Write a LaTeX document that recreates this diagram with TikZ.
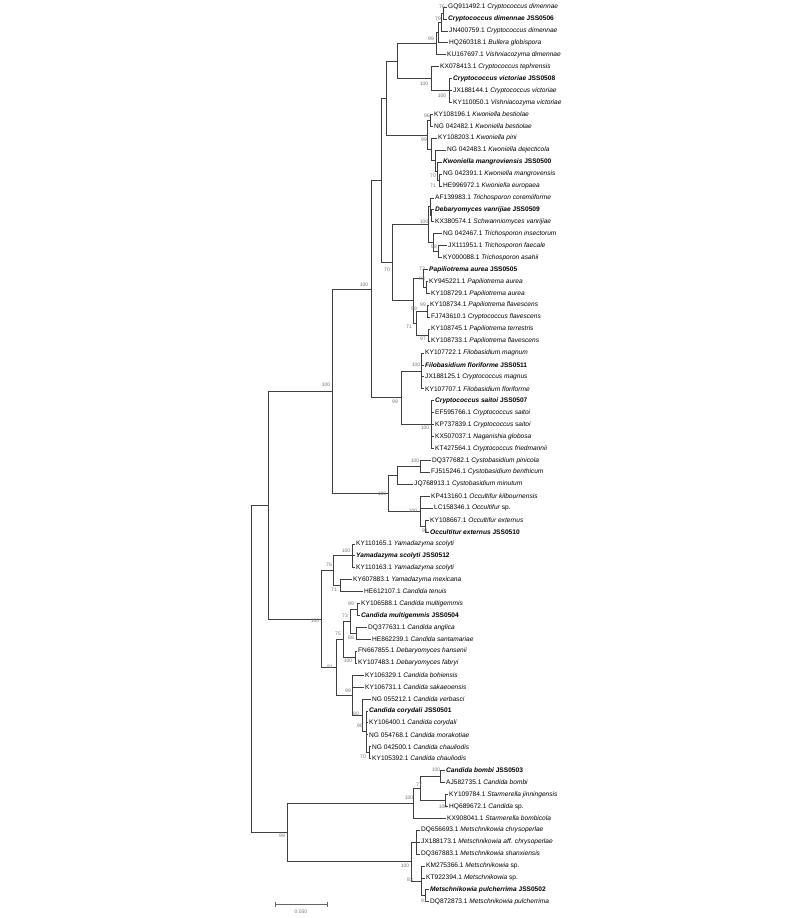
\documentclass[tikz,border=0pt]{standalone}
\usepackage{fontspec}
\setmainfont{Liberation Sans}
\begin{document}
\begin{tikzpicture}[x=1pt,y=-1pt,
  br/.style={draw=black!75,line width=0.7pt},
  leaf/.style={anchor=west,inner sep=1pt,font=\fontsize{6.6}{7}\selectfont},
  bs/.style={inner sep=0pt,text=black!55,font=\fontsize{5}{5}\selectfont}]
\useasboundingbox (0,0) rectangle (800,918);
\def\Y#1{{-4.93+11.93*#1}}
\newcommand\spx[2]{#1 \textit{#2}}
\newcommand\bspx[2]{\textbf{\textit{#1} #2}}
% leaves
\node[leaf] (l1) at (447,\Y{1}) {\spx{GQ911492.1}{Cryptococcus dimennae}};
\node[leaf] (l2) at (447,\Y{2}) {\bspx{Cryptococcus dimennae}{JSS0506}};
\node[leaf] (l3) at (448,\Y{3}) {\spx{JN400759.1}{Cryptococcus dimennae}};
\node[leaf] (l4) at (448,\Y{4}) {\spx{HQ260318.1}{Bullera globispora}};
\node[leaf] (l5) at (446,\Y{5}) {\spx{KU167697.1}{Vishniacozyma dimennae}};
\node[leaf] (l6) at (439,\Y{6}) {\spx{KX078413.1}{Cryptococcus tephrensis}};
\node[leaf] (l7) at (452,\Y{7}) {\bspx{Cryptococcus victoriae}{JSS0508}};
\node[leaf] (l8) at (452,\Y{8}) {\spx{JX188144.1}{Cryptococcus victoriae}};
\node[leaf] (l9) at (452,\Y{9}) {\spx{KY110050.1}{Vishniacozyma victoriae}};
\node[leaf] (l10) at (433,\Y{10}) {\spx{KY108196.1}{Kwoniella bestiolae}};
\node[leaf] (l11) at (433,\Y{11}) {\spx{NG 042482.1}{Kwoniella bestiolae}};
\node[leaf] (l12) at (437,\Y{12}) {\spx{KY108203.1}{Kwoniella pini}};
\node[leaf] (l13) at (446,\Y{13}) {\spx{NG 042483.1}{Kwoniella dejecticola}};
\node[leaf] (l14) at (442,\Y{14}) {\bspx{Kwoniella mangroviensis}{JSS0500}};
\node[leaf] (l15) at (442,\Y{15}) {\spx{NG 042391.1}{Kwoniella mangrovensis}};
\node[leaf] (l16) at (442,\Y{16}) {\spx{HE996972.1}{Kwoniella europaea}};
\node[leaf] (l17) at (434,\Y{17}) {\spx{AF139983.1}{Trichosporon coremiiforme}};
\node[leaf] (l18) at (434,\Y{18}) {\bspx{Debaryomyces vanrijiae}{JSS0509}};
\node[leaf] (l19) at (434,\Y{19}) {\spx{KX380574.1}{Schwanniomyces vanrijiae}};
\node[leaf] (l20) at (442,\Y{20}) {\spx{NG 042467.1}{Trichosporon insectorum}};
\node[leaf] (l21) at (447,\Y{21}) {\spx{JX111951.1}{Trichosporon faecale}};
\node[leaf] (l22) at (442,\Y{22}) {\spx{KY000088.1}{Trichosporon asahii}};
\node[leaf] (l23) at (428,\Y{23}) {\bspx{Papiliotrema aurea}{JSS0505}};
\node[leaf] (l24) at (428,\Y{24}) {\spx{KY945221.1}{Papiliotrema aurea}};
\node[leaf] (l25) at (430,\Y{25}) {\spx{KY108729.1}{Papiliotrema aurea}};
\node[leaf] (l26) at (429,\Y{26}) {\spx{KY108734.1}{Papiliotrema flavescens}};
\node[leaf] (l27) at (430,\Y{27}) {\spx{FJ743610.1}{Cryptococcus flavescens}};
\node[leaf] (l28) at (430,\Y{28}) {\spx{KY108745.1}{Papiliotrema terrestris}};
\node[leaf] (l29) at (430,\Y{29}) {\spx{KY108733.1}{Papiliotrema flavescens}};
\node[leaf] (l30) at (424,\Y{30}) {\spx{KY107722.1}{Filobasidium magnum}};
\node[leaf] (l31) at (424,\Y{31}) {\bspx{Filobasidium floriforme}{JSS0511}};
\node[leaf] (l32) at (424,\Y{32}) {\spx{JX188125.1}{Cryptococcus magnus}};
\node[leaf] (l33) at (424,\Y{33}) {\spx{KY107707.1}{Filobasidium floriforme}};
\node[leaf] (l34) at (434,\Y{34}) {\bspx{Cryptococcus saitoi}{JSS0507}};
\node[leaf] (l35) at (434,\Y{35}) {\spx{EF595766.1}{Cryptococcus saitoi}};
\node[leaf] (l36) at (434,\Y{36}) {\spx{KP737839.1}{Cryptococcus saitoi}};
\node[leaf] (l37) at (434,\Y{37}) {\spx{KX507037.1}{Naganishia globosa}};
\node[leaf] (l38) at (434,\Y{38}) {\spx{KT427564.1}{Cryptococcus friedmannii}};
\node[leaf] (l39) at (431,\Y{39}) {\spx{DQ377682.1}{Cystobasidium pinicola}};
\node[leaf] (l40) at (430,\Y{40}) {\spx{FJ515246.1}{Cystobasidium benthicum}};
\node[leaf] (l41) at (413,\Y{41}) {\spx{JQ768913.1}{Cystobasidium minutum}};
\node[leaf] (l42) at (430,\Y{42}) {\spx{KP413160.1}{Occultifur kilbournensis}};
\node[leaf] (l43) at (433,\Y{43}) {\spx{LC158346.1}{Occultifur} sp.};
\node[leaf] (l44) at (429,\Y{44}) {\spx{KY108667.1}{Occultifur externus}};
\node[leaf] (l45) at (429,\Y{45}) {\bspx{Occultitur externus}{JSS0510}};
\node[leaf] (l46) at (355,\Y{46}) {\spx{KY110165.1}{Yamadazyma scolyti}};
\node[leaf] (l47) at (355,\Y{47}) {\bspx{Yamadazyma scolyti}{JSS0512}};
\node[leaf] (l48) at (355,\Y{48}) {\spx{KY110163.1}{Yamadazyma scolyti}};
\node[leaf] (l49) at (352,\Y{49}) {\spx{KY607883.1}{Yamadazyma mexicana}};
\node[leaf] (l50) at (363,\Y{50}) {\spx{HE612107.1}{Candida tenuis}};
\node[leaf] (l51) at (360,\Y{51}) {\spx{KY106588.1}{Candida multigemmis}};
\node[leaf] (l52) at (360,\Y{52}) {\bspx{Candida multigemmis}{JSS0504}};
\node[leaf] (l53) at (367,\Y{53}) {\spx{DQ377631.1}{Candida anglica}};
\node[leaf] (l54) at (371,\Y{54}) {\spx{HE862239.1}{Candida santamariae}};
\node[leaf] (l55) at (357,\Y{55}) {\spx{FN667855.1}{Debaryomyces hansenii}};
\node[leaf] (l56) at (357,\Y{56}) {\spx{KY107483.1}{Debaryomyces fabryi}};
\node[leaf] (l57) at (364,\Y{57}) {\spx{KY106329.1}{Candida bohiensis}};
\node[leaf] (l58) at (364,\Y{58}) {\spx{KY106731.1}{Candida sakaeoensis}};
\node[leaf] (l59) at (371,\Y{59}) {\spx{NG 055212.1}{Candida verbasci}};
\node[leaf] (l60) at (368,\Y{60}) {\bspx{Candida corydali}{JSS0501}};
\node[leaf] (l61) at (368,\Y{61}) {\spx{KY106400.1}{Candida corydali}};
\node[leaf] (l62) at (368,\Y{62}) {\spx{NG 054768.1}{Candida morakotiae}};
\node[leaf] (l63) at (371,\Y{63}) {\spx{NG 042500.1}{Candida chauliodis}};
\node[leaf] (l64) at (371,\Y{64}) {\spx{KY105392.1}{Candida chauliodis}};
\node[leaf] (l65) at (445,\Y{65}) {\bspx{Candida bombi}{JSS0503}};
\node[leaf] (l66) at (445,\Y{66}) {\spx{AJ582735.1}{Candida bombi}};
\node[leaf] (l67) at (448,\Y{67}) {\spx{KY109784.1}{Starmerella jinningensis}};
\node[leaf] (l68) at (448,\Y{68}) {\spx{HQ689672.1}{Candida} sp.};
\node[leaf] (l69) at (446,\Y{69}) {\spx{KX908041.1}{Starmerella bombicola}};
\node[leaf] (l70) at (420,\Y{70}) {\spx{DQ656693.1}{Metschnikowia chrysoperlae}};
\node[leaf] (l71) at (420,\Y{71}) {\spx{JX188173.1}{Metschnikowia aff. chrysoperlae}};
\node[leaf] (l72) at (420,\Y{72}) {\spx{DQ367883.1}{Metschnikowia shanxiensis}};
\node[leaf] (l73) at (425,\Y{73}) {\spx{KM275366.1}{Metschnikowia} sp.};
\node[leaf] (l74) at (425,\Y{74}) {\spx{KT922394.1}{Metschnikowia} sp.};
\node[leaf] (l75) at (429,\Y{75}) {\bspx{Metschnikowia pulcherrima}{JSS0502}};
\node[leaf] (l76) at (429,\Y{76}) {\spx{DQ872873.1}{Metschnikowia pulcherrima}};
% internal nodes
\foreach \n/\x/\i in {d4/443/1.5, d3/441/2.25, d2/438/3.125, Dm/436/4.0625, Vi2/449/8, Vi/431/7, D/397/5.53125,
  K1/430/10.5, K5/439/15.5, K4/437/14.75, K3/435/13.875, K2/431/12.9375, K/427/11.71875, V/386/8.625,
  Tra/431/18.5, Tr1/430/17.75, Tr3/438/21.5, Tr2/433/20.75, Tr/428/19.25,
  P1a/426/24.5, P1/423/23.75, P2a/427/26.5, P2b/428/28.5, P2/416/27.5, P/413/25.625, W/392/22.4375, U/381/15.53,
  Filo/421/31.5, Sa/431/36, F/401/33.75, T/371/24.64,
  Cya/420/39.5, Cy1/397/40.25, Oc2/425/44.5, Oc/420/43.25, Cy/388/41.75, Ba/332/33.2,
  Yam/352/47, Y2/340/49.5, Ya/333/48.25, Ca1/357/51.5, Ca2/356/53.5, Ca/350/52.5, Cb/355/55.5, C1/343/54,
  C5/369/63.5, C4/366/61.75, C3/362/60.375, C2/352/58.69, C/336/56.34, As/321/52.3, A/268/42.75,
  S2/440/65.5, S3/445/67.5, S1/420/66.5, S/413/67.75, M1/416/71, M3/425/75.5, M2/421/74.25, Me/411/72.625,
  Mr/287/70.19, R/251/56.47}
  {\coordinate (\n) at (\x,\Y{\i});}
% leaf branches
\foreach \p/\c in {d4/1,d4/2,d3/3,d2/4,Dm/5,Vi/6,Vi2/7,Vi2/8,Vi2/9,K1/10,K1/11,K2/12,K3/13,K4/14,K5/15,K5/16,
  Tr1/17,Tra/18,Tra/19,Tr2/20,Tr3/21,Tr3/22,P1/23,P1a/24,P1a/25,P2a/26,P2a/27,P2b/28,P2b/29,
  Filo/30,Filo/31,Filo/32,Filo/33,Sa/34,Sa/35,Sa/36,Sa/37,Sa/38,Cya/39,Cya/40,Cy1/41,Oc/42,Oc/43,Oc2/44,Oc2/45,
  Yam/46,Yam/47,Yam/48,Y2/49,Y2/50,Ca1/51,Ca1/52,Ca2/53,Ca2/54,Cb/55,Cb/56,C2/57,C2/58,C3/59,C4/60,C4/61,C4/62,C5/63,C5/64,
  S2/65,S2/66,S3/67,S3/68,S/69,M1/70,M1/71,M1/72,M2/73,M2/74,M3/75,M3/76}
  {\draw[br] (\p) |- (l\c.west);}
% internal branches
\foreach \p/\c in {d3/d4,d2/d3,Dm/d2,D/Dm,D/Vi,Vi/Vi2,K/K1,K/K2,K2/K3,K3/K4,K4/K5,V/D,V/K,
  Tr1/Tra,Tr/Tr1,Tr/Tr2,Tr2/Tr3,P1/P1a,P/P1,P/P2,P2/P2a,P2/P2b,W/Tr,W/P,U/V,U/W,
  F/Filo,F/Sa,T/U,T/F,Cy1/Cya,Cy/Cy1,Oc/Oc2,Cy/Oc,Ba/T,Ba/Cy,
  Ya/Yam,Ya/Y2,Ca/Ca1,Ca/Ca2,C1/Ca,C1/Cb,C4/C5,C3/C4,C2/C3,C/C1,C/C2,As/Ya,As/C,A/Ba,A/As,
  S1/S2,S1/S3,S/S1,M2/M3,Me/M1,Me/M2,Mr/S,Mr/Me,R/A,R/Mr}
  {\draw[br] (\p) |- (\c);}
% bootstrap values
\foreach \x/\y/\t in {442/7/76,438/19/79,431/39/99,424/84/100,442/96/100,427/116/96,424/140/99,433/176/70,433/186/71,
  424/222/100,434/247/98,387/270/70,422/269/73,422/279/93,414/309/99,423/305/99,409/327/71,423/339/97,
  364/285/100,416/365/100,326/385/100,395/402/99,425/428/100,415/461/100,382/494/100,413/511/100,425/531/91,
  346/551/100,329/565/76,334/590/71,351/604/99,345/616/73,315/621/100,338/634/75,351/638/88,348/661/100,
  330/667/81,348/691/99,356/714/80,360/726/96,363/757/70,436/770/100,419/785/77,409/798/100,443/807/100,
  282/836/99,405/866/100,410/880/83,424/901/91}
  {\node[bs] at (\x,\y) {\t};}
% scale bar
\coordinate (sb1) at (275,904);
\coordinate (sb2) at (327,904);
\draw[black!60,line width=0.6pt] (sb1) -- (sb2) (sb1)++(0,-2.5) -- ++(0,5) (sb2)++(0,-2.5) -- ++(0,5);
\node[bs] (sbl) at (301,912) {0.050};
\end{tikzpicture}
\end{document}
